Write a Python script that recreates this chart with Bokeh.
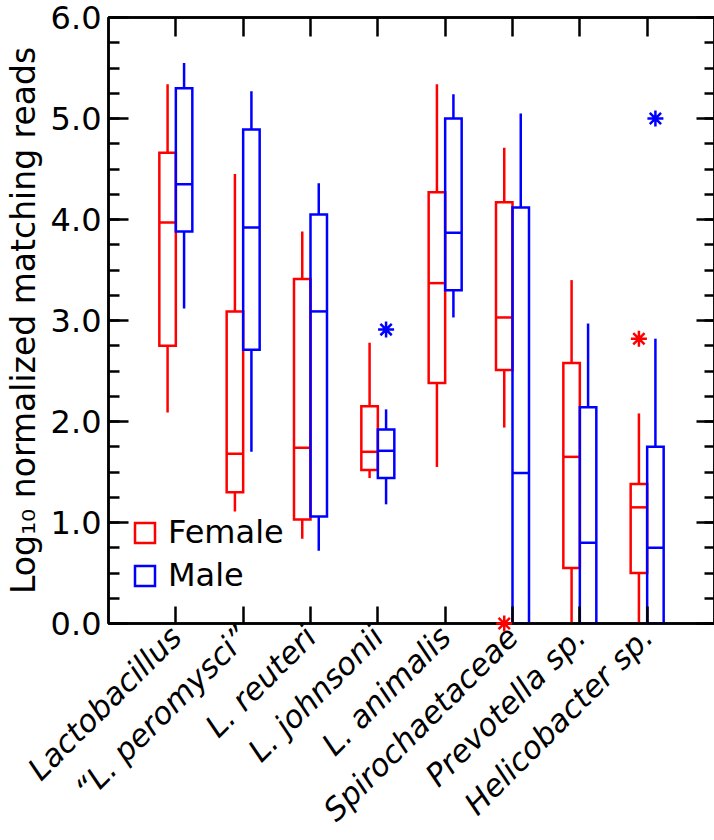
from math import pi
from bokeh.plotting import figure
from bokeh.models import (Range1d, LinearAxis, FixedTicker, SingleIntervalTicker,
                          PrintfTickFormatter, Legend, LegendItem)
from bokeh.embed import file_html
from bokeh.resources import INLINE

# ---------------- data ----------------
categories = ["Lactobacillus", "\u201cL. peromysci\u201d", "L. reuteri", "L. johnsonii",
              "L. animalis", "Spirochaetaceae", "Prevotella sp.", "Helicobacter sp."]
positions = [1, 2, 3, 4, 5, 6, 7, 8]
y_ticks = [0, 1, 2, 3, 4, 5, 6]

female_whisker_low = [2.09, 1.11, 0.84, 1.44, 1.55, 1.94, 0.00, 0.00]
female_q1 = [2.75, 1.30, 1.03, 1.52, 2.38, 2.51, 0.55, 0.50]
female_median = [3.97, 1.68, 1.74, 1.70, 3.37, 3.03, 1.65, 1.15]
female_q3 = [4.66, 3.09, 3.41, 2.15, 4.27, 4.17, 2.58, 1.38]
female_whisker_high = [5.34, 4.45, 3.88, 2.78, 5.34, 4.71, 3.40, 2.08]
female_outlier_pos = [6, 8]
female_outlier_val = [0.00, 2.82]

male_whisker_low = [3.12, 1.70, 0.72, 1.18, 3.03, 0.00, 0.00, 0.00]
male_q1 = [3.88, 2.71, 1.06, 1.44, 3.30, 0.00, 0.00, 0.00]
male_median = [4.35, 3.92, 3.09, 1.71, 3.87, 1.49, 0.80, 0.75]
male_q3 = [5.30, 4.89, 4.05, 1.92, 5.00, 4.12, 2.14, 1.75]
male_whisker_high = [5.55, 5.27, 4.36, 2.12, 5.24, 5.05, 2.97, 2.82]
male_outlier_pos = [4, 8]
male_outlier_val = [2.91, 5.00]

# ---------------- styling ----------------
RED = "#ff0000"
BLUE = "#0000ff"
FONT = "DejaVu Sans"
BW = 0.245        # box width in category units
LW = 2.5

p = figure(frame_width=606, frame_height=606, output_backend="svg", toolbar_location=None,
           x_range=Range1d(0, 9), y_range=Range1d(0, 6),
           x_axis_location=None, y_axis_location=None,
           min_border_left=103, min_border_right=5, min_border_top=17, min_border_bottom=217)
p.xgrid.visible = False
p.ygrid.visible = False
p.outline_line_color = "black"
p.outline_line_width = LW
p.background_fill_color = "white"
p.border_fill_color = "white"


def draw_group(offset, wl, q1, med, q3, wh, color, opos, oval):
    left = [x + offset for x in positions]
    right = [x + offset + BW for x in positions]
    center = [x + offset + BW / 2 for x in positions]
    p.segment(x0=center, y0=wl, x1=center, y1=q1, line_color=color, line_width=LW)
    p.segment(x0=center, y0=q3, x1=center, y1=wh, line_color=color, line_width=LW)
    r = p.quad(left=left, right=right, bottom=q1, top=q3, fill_color=None,
               line_color=color, line_width=LW, line_join="miter")
    p.segment(x0=left, y0=med, x1=right, y1=med, line_color=color, line_width=LW)
    ox = [x + offset + BW / 2 for x in opos]
    p.scatter(x=ox, y=oval, marker="asterisk", size=16, line_color=color,
              line_width=2.5, level="overlay")
    return r


rf = draw_group(-BW, female_whisker_low, female_q1, female_median, female_q3,
                female_whisker_high, RED, female_outlier_pos, female_outlier_val)
rm = draw_group(0.0, male_whisker_low, male_q1, male_median, male_q3,
                male_whisker_high, BLUE, male_outlier_pos, male_outlier_val)


# ---------------- axes ----------------
def style_axis(ax):
    ax.axis_line_width = LW
    ax.axis_line_color = "black"
    ax.major_tick_line_width = LW
    ax.minor_tick_line_width = LW
    ax.major_tick_line_color = "black"
    ax.minor_tick_line_color = "black"
    ax.major_tick_out = 0
    ax.minor_tick_out = 0
    ax.major_label_text_color = "black"


def hide_labels(ax, ticks):
    ax.major_label_overrides = {t: "" for t in ticks}
    ax.major_label_text_font_size = "1px"
    ax.major_label_standoff = 0


left = LinearAxis(ticker=SingleIntervalTicker(interval=1, num_minor_ticks=4),
                  formatter=PrintfTickFormatter(format="%.1f"))
style_axis(left)
left.major_tick_in = 20
left.minor_tick_in = 11
left.major_label_text_font = FONT
left.major_label_text_font_size = "32px"
left.major_label_standoff = 7
left.axis_label = "Log\u2081\u2080 normalized matching reads"
left.axis_label_text_font = FONT
left.axis_label_text_font_size = "33px"
left.axis_label_text_font_style = "normal"
left.axis_label_text_color = "black"
left.axis_label_standoff = 5
p.add_layout(left, "left")

right = LinearAxis(ticker=SingleIntervalTicker(interval=1, num_minor_ticks=4))
style_axis(right)
right.major_tick_in = 18
right.minor_tick_in = 10
hide_labels(right, y_ticks)
p.add_layout(right, "right")

bottom = LinearAxis(ticker=FixedTicker(ticks=positions, minor_ticks=[]))
style_axis(bottom)
bottom.major_tick_in = 17
bottom.major_label_overrides = {pos: name for pos, name in zip(positions, categories)}
bottom.major_label_orientation = pi / 4
bottom.major_label_text_font = FONT
bottom.major_label_text_font_size = "31px"
bottom.major_label_text_font_style = "italic"
bottom.major_label_standoff = 8
p.add_layout(bottom, "below")

top = LinearAxis(ticker=FixedTicker(ticks=positions, minor_ticks=[]))
style_axis(top)
top.major_tick_in = 19
hide_labels(top, positions)
p.add_layout(top, "above")

# ---------------- legend ----------------
legend = Legend(items=[LegendItem(label="Female", renderers=[rf]),
                       LegendItem(label="Male", renderers=[rm])],
                location=(24, 29))
legend.label_text_font = FONT
legend.label_text_font_size = "32px"
legend.label_text_color = "black"
legend.glyph_width = 25
legend.glyph_height = 25
legend.label_standoff = 11
legend.spacing = 5
legend.padding = 0
legend.margin = 0
legend.border_line_alpha = 0
legend.background_fill_alpha = 0
p.add_layout(legend)

open("out.html", "w").write(file_html(p, INLINE))
